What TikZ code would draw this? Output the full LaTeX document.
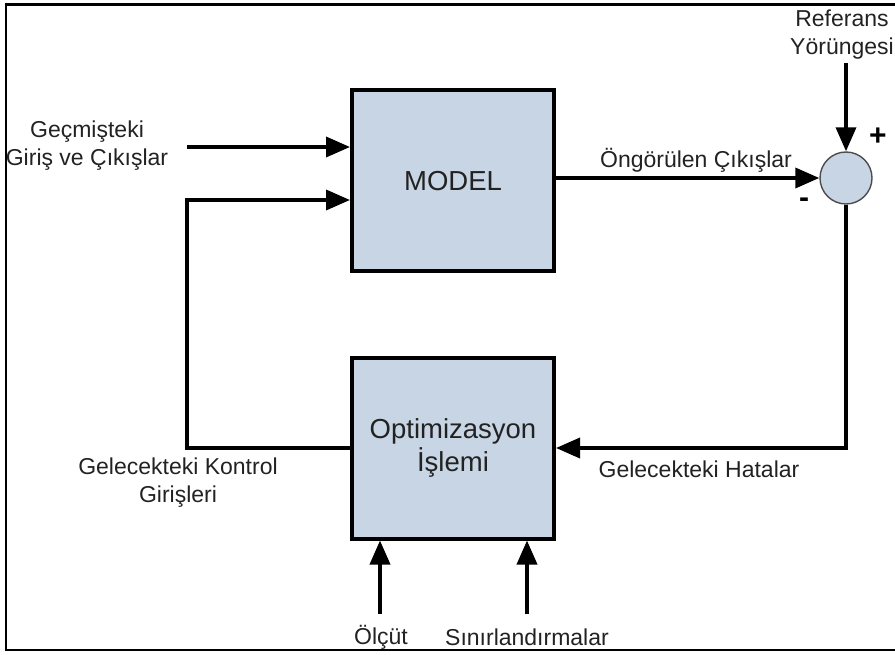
\documentclass[tikz,border=0pt]{standalone}
\usepackage{fontspec}
\setmainfont{Liberation Sans}
\usetikzlibrary{arrows.meta}
\definecolor{boxfill}{HTML}{C8D5E4}
\definecolor{txt}{HTML}{222222}
\begin{document}
\begin{tikzpicture}[x=1pt,y=-1pt,
  lbl/.style={text=txt,font=\fontsize{23}{28}\selectfont,align=center,inner sep=0pt},
  block/.style={draw=black,line width=4pt,fill=boxfill,minimum width=202pt,minimum height=181pt,
    text=txt,font=\fontsize{27.5}{33}\selectfont,align=center,inner sep=0pt},
  sumnode/.style={circle,draw=black!70,line width=1.4pt,fill=boxfill,minimum size=52pt,inner sep=0pt},
  sign/.style={font=\fontsize{30}{30}\selectfont\bfseries,inner sep=0pt},
  flow/.style={line width=3.6pt,-{Triangle[length=24pt,width=20pt]}}]
\useasboundingbox (0,0) rectangle (895,655);
% outer frame (open on the right)
\draw[line width=2.6pt] (895,4.5) -- (6,4.5) -- (6,650) -- (895,650);

% blocks
\node[block] (model) at (453,181) {MODEL};
\node[block] (opt) at (453,448) {Optimizasyon\\İşlemi};
\node[sumnode] (sum) at (846,178) {};

% signs at the summing junction
\node[sign] (plus) at (878,137) {+};
\node[sign] (minus) at (804,203) {-};

% free ends of the input arrows
\coordinate (pastin) at (187,147);
\coordinate (refin) at (846,63);
\coordinate (critin) at (380,614);
\coordinate (consin) at (527,614);
\coordinate (fb) at (187,200);

% connectors
\draw[flow] (pastin) -- (model.west |- pastin);
\draw[flow] (opt.west) -| (fb) -- (model.west |- fb);
\draw[flow] (model.east |- sum) -- (sum.west);
\draw[flow] (refin) -- (sum.north);
\draw[flow] (sum.south) |- (opt.east);
\draw[flow] (critin) -- (critin |- opt.south);
\draw[flow] (consin) -- (consin |- opt.south);

% labels
\node[lbl] (pastlbl) at (87,146) {Geçmişteki\\Giriş ve Çıkışlar};
\node[lbl] (outlbl) at (696,160) {Öngörülen Çıkışlar};
\node[lbl] (reflbl) at (842,35) {Referans\\Yörüngesi};
\node[lbl] (ctrllbl) at (178,483) {Gelecekteki Kontrol\\Girişleri};
\node[lbl] (errlbl) at (699,469) {Gelecekteki Hatalar};
\node[lbl] (critlbl) at (381,637) {Ölçüt};
\node[lbl] (conslbl) at (527,637) {Sınırlandırmalar};
\end{tikzpicture}
\end{document}
